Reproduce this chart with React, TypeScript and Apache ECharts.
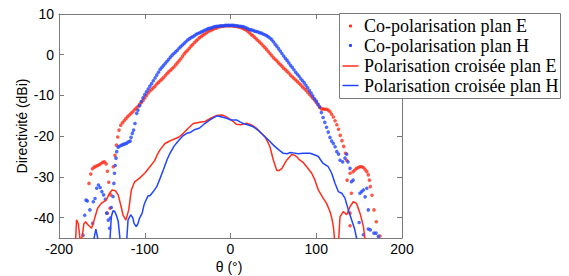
import React, { useEffect, useRef } from "react";
import * as echarts from "echarts";

const RED = "#FF2E1C";
const BLUE = "#2046FF";
const AXIS = "#7a7a7a";
const SANS = "'Liberation Sans', Arial, Helvetica, sans-serif";
const SERIF = "'Liberation Serif', 'Times New Roman', serif";

const seriesNames = [
  "Co-polarisation plan E",
  "Co-polarisation plan H",
  "Polarisation croisée plan E",
  "Polarisation croisée plan H",
];
const xAxisTitle = "θ (°)";
const yAxisTitle = "Directivité (dBi)";

const xTicks = { min: -200, max: 200, step: 100 };
const yRange = { min: -45, max: 10 };

// Co-polarisation plan E  [theta (deg), directivity (dBi)]
const coPolE: [number, number][] = [
  [-168, -47], [-165, -31.6], [-163, -29.3], [-161, -28], [-159, -27.6], [-157, -27.4],
  [-155, -27.2], [-153, -27], [-151, -26.7], [-149, -26.4], [-147, -26.3], [-145, -26.8],
  [-143.5, -28.6], [-142, -31.3], [-143.7, -38.9], [-140.5, -37.7], [-139.7, -34.4],
  [-136.7, -27.5], [-134.7, -24.7], [-133, -22.2], [-131.5, -20.2],
  [-130, -18.5], [-128, -17.3], [-126, -16.7], [-124, -16.2], [-122, -15.7], [-120, -15.2],
  [-118, -14.8], [-116, -14.4], [-114, -14.0], [-112, -13.5], [-110, -13.1], [-108, -12.7],
  [-106, -12.2], [-104, -11.7], [-102, -11.2], [-100, -10.6], [-98, -10.0], [-96, -9.4],
  [-94, -8.9], [-92, -8.5], [-90, -8.1], [-88, -7.7], [-86, -7.2], [-84, -6.8], [-82, -6.4],
  [-80, -6.0], [-78, -5.6], [-76, -5.1], [-74, -4.6], [-72, -4.2], [-70, -3.8], [-68, -3.4],
  [-66, -3.0], [-64, -2.5], [-62, -2.0], [-60, -1.5], [-58, -1.0], [-56, -0.4], [-54, 0.2],
  [-52, 0.7], [-50, 1.1], [-48, 1.6], [-46, 2.1], [-44, 2.5], [-42, 3.0], [-40, 3.4],
  [-38, 3.8], [-36, 4.2], [-34, 4.5], [-32, 4.8], [-30, 5.1], [-28, 5.4], [-26, 5.7],
  [-24, 5.9], [-22, 6.1], [-20, 6.3], [-18, 6.5], [-16, 6.6], [-14, 6.8], [-12, 6.9],
  [-10, 7.0], [-8, 7.0], [-6, 7.1], [-4, 7.1], [-2, 7.1], [0, 7.1], [2, 7.1], [4, 7.0],
  [6, 7.0], [8, 6.9], [10, 6.8], [12, 6.7], [14, 6.5], [16, 6.3], [18, 6.1], [20, 5.8],
  [22, 5.4], [24, 5.0], [26, 4.7], [28, 4.3], [30, 3.9], [32, 3.5], [34, 3.1], [36, 2.7],
  [38, 2.2], [40, 1.8], [42, 1.3], [44, 0.8], [46, 0.3], [48, -0.2], [50, -0.7], [52, -1.1],
  [54, -1.5], [56, -2.0], [58, -2.4], [60, -2.8], [62, -3.3], [64, -3.7], [66, -4.1],
  [68, -4.5], [70, -5.0], [72, -5.4], [74, -5.8], [76, -6.2], [78, -6.6], [80, -7.0],
  [82, -7.4], [84, -7.9], [86, -8.3], [88, -8.7], [90, -9.2], [92, -9.7], [94, -10.2],
  [96, -10.7], [98, -11.1], [100, -11.7], [102, -12.3], [104, -12.9], [106, -13.3],
  [108, -13.3], [110, -13.4], [112, -13.4], [114, -13.6], [116, -14.0], [118, -14.6],
  [120, -15.3], [122, -16.2], [124, -17.2], [126, -18.3], [128, -19.8], [130, -21.1],
  [132, -22.5], [134, -24.2], [135.5, -25.9], [136, -30.8], [139.4, -29.1], [139.4, -38.9],
  [139.4, -42], [141, -34], [143, -28.7], [145, -28.3], [147, -27.9], [149, -27.7],
  [151, -27.5], [153, -27.5], [155, -27.7], [157, -28.2], [159, -28.7], [160.7, -29.5],
  [162, -30.8], [163, -32.4], [165, -34.5], [167.3, -38.1], [170, -41], [174.3, -44.5],
];

// Co-polarisation plan H
const coPolH: [number, number][] = [
  [-172, -44.3], [-170, -39.4], [-168.5, -35.7], [-167, -35.9], [-164, -38.1],
  [-160.7, -41.4], [-160, -36.1], [-158, -35.3], [-156, -32.8], [-154, -32], [-152, -32.6],
  [-150, -33.6], [-148, -34.4], [-146, -35.5], [-144.4, -38.9], [-142.5, -40.6],
  [-141, -42.6], [-140, -40.1], [-139, -37.5], [-137, -34.8], [-136, -31.6],
  [-135.3, -29.1], [-134.5, -27.2], [-133.5, -25.4], [-132.7, -23.8], [-131, -22.7],
  [-129, -22.4], [-127, -22.2], [-125, -22.0], [-123, -21.9], [-121, -21.7], [-119, -21.4],
  [-117, -21.2], [-116, -20.3], [-114.5, -19.3], [-113, -18.5], [-111.4, -16.9],
  [-109.4, -14.4], [-108, -13.6], [-106, -12.5], [-104, -11.5], [-102, -10.6], [-100, -9.8],
  [-98, -9.1], [-96, -8.4], [-94, -7.7], [-92, -7.1], [-90, -6.4], [-88, -5.7], [-86, -5.0],
  [-84, -4.3], [-82, -3.6], [-80, -3.1], [-78, -2.6], [-76, -2.1], [-74, -1.6], [-72, -1.1],
  [-70, -0.6], [-68, -0.1], [-66, 0.3], [-64, 0.7], [-62, 1.1], [-60, 1.6], [-58, 2.0],
  [-56, 2.4], [-54, 2.8], [-52, 3.2], [-50, 3.6], [-48, 3.9], [-46, 4.2], [-44, 4.4],
  [-42, 4.7], [-40, 5.0], [-38, 5.2], [-36, 5.4], [-34, 5.6], [-32, 5.8], [-30, 6.0],
  [-28, 6.2], [-26, 6.4], [-24, 6.5], [-22, 6.6], [-20, 6.8], [-18, 6.9], [-16, 7.0],
  [-14, 7.0], [-12, 7.1], [-10, 7.1], [-8, 7.1], [-6, 7.2], [-4, 7.2], [-2, 7.2], [0, 7.2],
  [2, 7.2], [4, 7.2], [6, 7.1], [8, 7.1], [10, 7.0], [12, 7.0], [14, 6.9], [16, 6.8],
  [18, 6.6], [20, 6.4], [22, 6.2], [24, 6.1], [26, 6.0], [28, 5.8], [30, 5.7], [32, 5.6],
  [34, 5.4], [36, 5.3], [38, 5.1], [40, 4.9], [42, 4.7], [44, 4.4], [46, 4.1], [48, 3.7],
  [50, 3.2], [52, 2.6], [54, 2.1], [56, 1.5], [58, 0.9], [60, 0.3], [62, -0.3], [64, -0.9],
  [66, -1.4], [68, -2.0], [70, -2.6], [72, -3.1], [74, -3.7], [76, -4.3], [78, -4.8],
  [80, -5.3], [82, -5.9], [84, -6.4], [86, -6.9], [88, -7.5], [90, -8.1], [92, -8.8],
  [94, -9.4], [96, -10.1], [98, -10.8], [100, -11.4], [102, -12.1], [104, -12.8],
  [106, -14.2], [108, -15.4], [110, -16.6], [112, -17.8], [114, -19.0], [116, -20.3],
  [118, -21.2], [120, -21.8], [122, -22.6], [124, -23.8], [126, -24.4], [127.7, -25.9],
  [130.8, -26.3], [133.5, -25.4], [135.5, -24.4], [137, -26.3], [139.4, -27.9], [141, -31.2],
  [143, -30.8], [150, -41.2], [151, -34], [153, -33.6], [155, -33.2], [157, -34.9],
  [159, -32.8], [160.7, -38.1], [155, -44.2], [160.7, -42.8], [163, -43], [167.3, -43.8],
  [169.7, -43.8], [172.4, -44.6],
];

// Polarisation croisée plan E
const crossE: [number, number][] = [
  [-181, -47], [-179.5, -40.5], [-177.5, -41.5], [-175, -46], [-173, -44.7], [-171, -41.5],
  [-169, -41], [-166, -41.8], [-162, -42.6], [-159, -40.6], [-155, -37.7], [-150.7, -36.5],
  [-145, -35.7], [-141, -34], [-138, -33.2], [-134.3, -33.4], [-131, -34.4], [-128, -36.9],
  [-125.4, -39.3], [-122, -40.6], [-118.7, -38.1], [-115.6, -33.2], [-111.8, -31.2],
  [-106, -30.3], [-100, -29.1], [-94, -27.5], [-88.4, -26], [-86, -24.8], [-82, -23.3],
  [-76.4, -21.8], [-72, -21.3], [-66.7, -20.8], [-60, -20.2], [-55, -19.3], [-49, -18],
  [-43.4, -16.9], [-36, -16.6], [-29.7, -16.4], [-23, -15.6], [-16, -14.9], [-10, -14.8],
  [-5, -15.2], [-2.6, -15.6], [2, -16.2], [7, -17.1], [12, -17.2], [19, -16.8], [25, -17.3],
  [30.6, -18.1], [36, -19.3], [40, -20.1], [43, -21.2], [46, -22.6], [50, -25.9],
  [54, -28.4], [57, -28.4], [60, -27.9], [65.5, -25.9], [71.4, -24.5], [74, -24.6],
  [77, -25], [81, -25.9], [85, -26.5], [90, -27.8], [94.7, -29.1], [98.5, -30.8],
  [102.4, -33.2], [108, -35.2], [112, -36.5], [116, -38.5], [118, -40], [120, -42.2],
  [122, -47], [125.7, -47], [127.7, -39.8], [131.5, -38.5], [135.5, -39.3], [139.4, -37.3],
  [143.2, -36.1], [147, -36.5], [151, -38.9], [155, -42.2], [158, -47],
];

// Polarisation croisée plan H
const crossH: [number, number][] = [
  [-161, -47], [-157, -42.8], [-153, -47], [-141, -47], [-139, -39.8], [-137, -38.3],
  [-135, -38.5], [-133, -39.5], [-131, -40.8], [-128, -47], [-121.5, -47], [-119.5, -40.6],
  [-116.4, -39.3], [-114, -40], [-112.5, -41.4], [-110, -42.2], [-108, -41.5], [-106, -40.1],
  [-103, -38.9], [-101, -37], [-99.4, -36.1], [-96, -34.6], [-94, -34.6], [-90, -33.6],
  [-86, -32.4], [-82, -30.3], [-78.4, -28.3], [-74, -25.8], [-70.6, -24.2], [-66, -22.5],
  [-61, -21.2], [-56, -20], [-51, -19.3], [-47, -19.1], [-42, -18.4], [-36, -18],
  [-30, -16.9], [-24, -16], [-16, -15], [-10, -15.3], [-4.4, -15.6], [0, -16], [7, -16],
  [11, -16.5], [15, -16.9], [20, -17.2], [26.6, -17.7], [32, -18.5], [38, -19.7],
  [44, -20.9], [50, -22.2], [56, -23.3], [61.6, -24.2], [66, -24.3], [70, -24], [73, -24.1],
  [79, -24.3], [85, -24.2], [92.7, -24.2], [97, -24.5], [102.4, -25], [108, -26.7],
  [114, -27.5], [118, -29.1], [122, -31.6], [125.7, -33.6], [129.7, -34], [133.5, -35.2],
  [137.4, -38.1], [141.3, -40.6], [145, -43], [147, -45], [149, -47],
];

export default function App() {
  const ref = useRef<HTMLDivElement>(null);
  useEffect(() => {
    if (!ref.current) return;
    const chart = echarts.init(ref.current, undefined, { renderer: "svg" });

    const xCommon = {
      type: "value" as const,
      min: xTicks.min,
      max: xTicks.max,
      interval: xTicks.step,
      splitLine: { show: false },
      axisLine: { show: true, onZero: false, lineStyle: { color: AXIS, width: 1 } },
      axisTick: { show: true, inside: true, length: 5, lineStyle: { color: AXIS } },
    };
    const yCommon = {
      type: "value" as const,
      min: yRange.min,
      max: yRange.max,
      splitLine: { show: false },
      axisLine: { show: true, onZero: false, lineStyle: { color: AXIS, width: 1 } },
      axisTick: { show: true, inside: true, length: 5, lineStyle: { color: AXIS } },
    };

    const legendRows = [
      { y: 26, kind: "dot", color: RED, text: seriesNames[0] },
      { y: 45.5, kind: "dot", color: BLUE, text: seriesNames[1] },
      { y: 66, kind: "line", color: RED, text: seriesNames[2] },
      { y: 85.5, kind: "line", color: BLUE, text: seriesNames[3] },
    ];
    const legendChildren: any[] = [
      {
        type: "rect",
        z: 100,
        shape: { x: 339.5, y: 13.5, width: 221, height: 85 },
        style: { fill: "#fff", stroke: AXIS, lineWidth: 1 },
      },
    ];
    legendRows.forEach((r) => {
      if (r.kind === "dot") {
        legendChildren.push({
          type: "circle",
          z: 101,
          shape: { cx: 350.5, cy: r.y, r: 1.6 },
          style: { fill: r.color },
        });
      } else {
        legendChildren.push({
          type: "line",
          z: 101,
          shape: { x1: 342.5, y1: r.y, x2: 358.5, y2: r.y },
          style: { stroke: r.color, lineWidth: 1.5 },
        });
      }
      legendChildren.push({
        type: "text",
        z: 101,
        x: 364,
        y: r.y,
        style: {
          text: r.text,
          fill: "#000",
          font: `18px ${SERIF}`,
          verticalAlign: "middle",
        },
      });
    });

    chart.setOption({
      animation: false,
      backgroundColor: "#fff",
      grid: { left: 59, right: 167, top: 14, bottom: 38, containLabel: false },
      xAxis: [
        {
          ...xCommon,
          position: "bottom",
          axisLabel: { color: "#000", fontSize: 14, fontFamily: SANS, margin: 4 },
        },
        { ...xCommon, position: "top", axisLabel: { show: false } },
      ],
      yAxis: [
        {
          ...yCommon,
          position: "left",
          axisLabel: {
            color: "#000",
            fontSize: 14,
            fontFamily: SANS,
            margin: 5,
            showMinLabel: false,
          },
        },
        { ...yCommon, position: "right", axisLabel: { show: false } },
      ],
      series: [
        {
          name: seriesNames[0],
          type: "scatter",
          data: coPolE,
          symbol: "circle",
          symbolSize: 3.6,
          itemStyle: { color: RED },
          clip: true,
        },
        {
          name: seriesNames[1],
          type: "scatter",
          data: coPolH,
          symbol: "circle",
          symbolSize: 3.6,
          itemStyle: { color: BLUE },
          clip: true,
        },
        {
          name: seriesNames[2],
          type: "line",
          data: crossE,
          showSymbol: false,
          symbol: "none",
          lineStyle: { color: RED, width: 1.5 },
          itemStyle: { color: RED },
          clip: true,
        },
        {
          name: seriesNames[3],
          type: "line",
          data: crossH,
          showSymbol: false,
          symbol: "none",
          lineStyle: { color: BLUE, width: 1.5 },
          itemStyle: { color: BLUE },
          clip: true,
        },
      ],
      graphic: [
        {
          type: "text",
          x: 22,
          y: 126,
          rotation: Math.PI / 2,
          style: {
            text: yAxisTitle,
            fill: "#000",
            font: `14px ${SANS}`,
            align: "center",
            verticalAlign: "middle",
          },
        },
        {
          type: "text",
          x: 229,
          y: 267,
          style: {
            text: xAxisTitle,
            fill: "#000",
            font: `14px ${SANS}`,
            align: "center",
            verticalAlign: "middle",
          },
        },
        { type: "group", z: 100, children: legendChildren },
      ],
    });
    return () => chart.dispose();
  }, []);
  return (
    <div
      ref={ref}
      style={{ position: "fixed", left: 0, top: 0, width: 569, height: 276, background: "#fff" }}
    />
  );
}
